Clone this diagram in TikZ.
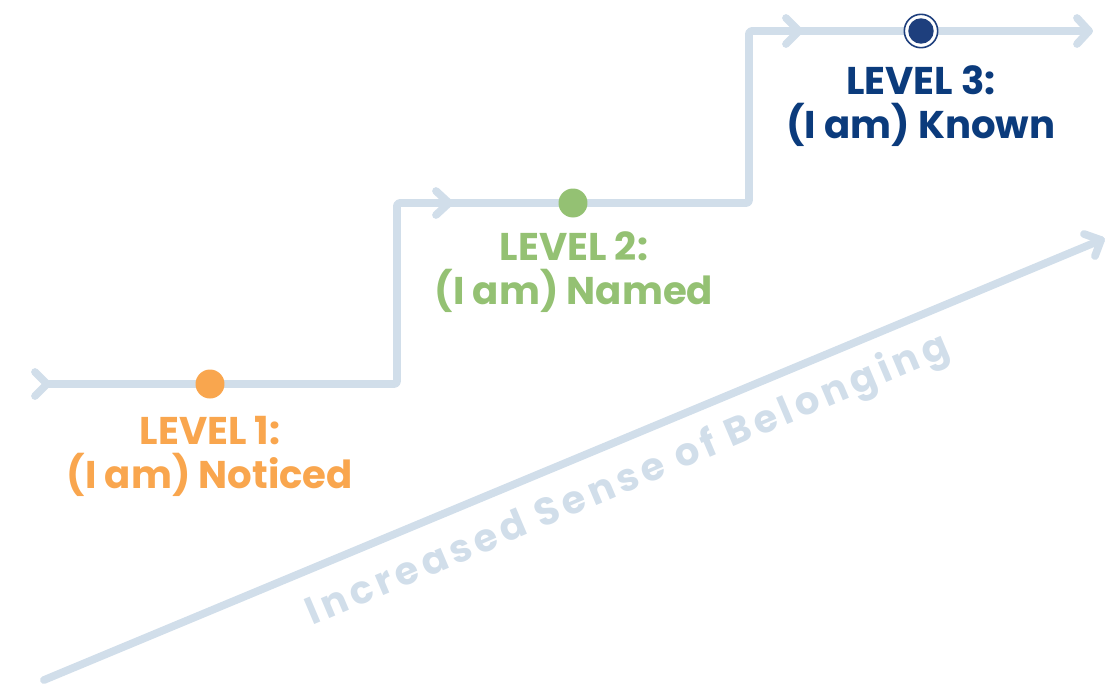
\documentclass[tikz,border=0pt]{standalone}
\usepackage{fontspec}
\setmainfont{Poppins}
\usepackage{tikz}
\usetikzlibrary{calc}
\definecolor{pathx}{HTML}{D1DEEA}
\definecolor{orangex}{HTML}{F9A64E}
\definecolor{greenx}{HTML}{94C173}
\definecolor{navyx}{HTML}{1E3F7D}
\definecolor{navytxt}{HTML}{0B3B7C}
\tikzset{
  stair/.style={pathx,line width=4.4pt,line cap=round,line join=round},
  lvl/.style={font=\fontsize{22}{25}\selectfont\bfseries,align=center,inner sep=0pt},
  dot/.style={circle,inner sep=0pt,minimum size=16.5pt}
}
\begin{document}
\begin{tikzpicture}[x=0.02cm,y=-0.02cm]
\useasboundingbox (0,0) rectangle (1107,684);
% corners of the staircase
\coordinate (s0) at (47,384);
\coordinate (s1) at (397,384);
\coordinate (s2) at (397,203);
\coordinate (s3) at (749,203);
\coordinate (s4) at (749,31);
\coordinate (s5) at (1089,31);
\draw[stair,rounded corners=1.5pt] (s0) -- (s1) -- (s2) -- (s3) -- (s4) -- (s5);
% chevrons
\draw[stair] ($(s0)+(-12,-12)$) -- (s0) -- ++(-12,12);
\draw[stair] (436,191) -- (449,203) -- (436,215);
\draw[stair] (786,18) -- (799,31) -- (786,44);
\draw[stair] ($(s5)+(-12,-13)$) -- (s5) -- ++(-12,13);
% diagonal
\coordinate (d0) at (44,680);
\coordinate (d1) at (1101,240);
\draw[stair] (d0) -- (d1);
\draw[stair] (1084,234) -- (d1) -- (1095,256);
\node[pathx,rotate=23,inner sep=0pt,font=\fontsize{22}{24}\selectfont\bfseries\addfontfeature{LetterSpace=12}] (growth) at (628,481) {Increased Sense of Belonging};
% levels
\node[dot,fill=orangex] (dotA) at (210,384) {};
\node[dot,fill=greenx] (dotB) at (573,203) {};
\node[dot,fill=white,draw=navyx,line width=0.9pt,minimum size=19pt] (dotC) at (921,31) {};
\node[dot,fill=navyx,minimum size=14.5pt] at (dotC) {};
\node[lvl,orangex] (lvl1) at (210,456) {LEVEL 1:\\(I am) Noticed};
\node[lvl,greenx] (lvl2) at (574,272) {LEVEL 2:\\(I am) Named};
\node[lvl,navytxt] (lvl3) at (921,106) {LEVEL 3:\\(I am) Known};
\end{tikzpicture}
\end{document}
